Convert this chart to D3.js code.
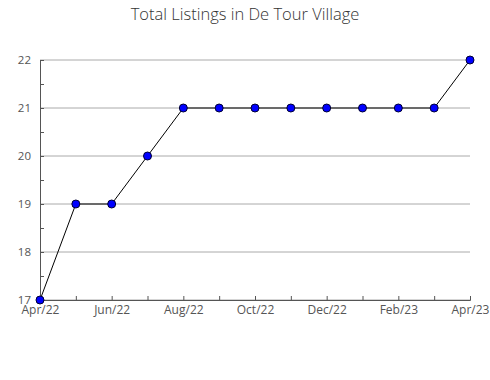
<!DOCTYPE html>
<html>
<head>
<meta charset="utf-8">
<script src="https://cdn.jsdelivr.net/npm/d3@7"></script>
<style>
  body { margin: 0; background: #fff; }
  text { font-family: "Open Sans", sans-serif; }
</style>
</head>
<body>
<div id="chart"></div>
<script>
// chart data
const months = ['Apr/22', 'May/22', 'Jun/22', 'Jul/22', 'Aug/22', 'Sep/22', 'Oct/22',
  'Nov/22', 'Dec/22', 'Jan/23', 'Feb/23', 'Mar/23', 'Apr/23'];
const listings = [17, 19, 19, 20, 21, 21, 21, 21, 21, 21, 21, 21, 22];
const yTicks = [17, 18, 19, 20, 21, 22];
const title = 'Total Listings in De Tour Village';

const width = 490;
const height = 380;
const margin = { top: 60, right: 20, bottom: 80, left: 40 };

const svg = d3.select('#chart')
  .append('svg')
  .attr('width', width)
  .attr('height', height);

const x = d3.scalePoint()
  .domain(months)
  .range([margin.left, width - margin.right]);

const y = d3.scaleLinear()
  .domain([17, 22])
  .range([height - margin.bottom, margin.top]);

// title
svg.append('text')
  .attr('x', width / 2)
  .attr('y', 20)
  .attr('text-anchor', 'middle')
  .attr('font-size', '16.5px')
  .attr('font-weight', 300)
  .attr('fill', '#333')
  .text(title);

// horizontal gridlines
svg.append('g')
  .selectAll('line')
  .data(yTicks)
  .enter()
  .append('line')
  .attr('x1', margin.left)
  .attr('x2', width - margin.right)
  .attr('y1', d => y(d))
  .attr('y2', d => y(d))
  .attr('stroke', '#aaa')
  .attr('stroke-width', 1);

// y axis: minor ticks pointing inward, labels on the left
const yAxis = svg.append('g')
  .attr('transform', `translate(${margin.left},0)`)
  .call(d3.axisLeft(y).tickValues(d3.range(17, 22.01, 0.5)).tickSize(-4).tickFormat(''));
yAxis.select('.domain').attr('stroke', '#555');
yAxis.selectAll('.tick line').attr('stroke', '#555');

svg.append('g')
  .selectAll('text')
  .data(yTicks)
  .enter()
  .append('text')
  .attr('x', margin.left - 9)
  .attr('y', d => y(d) + 4)
  .attr('text-anchor', 'end')
  .attr('font-size', '11.5px')
  .attr('fill', '#555')
  .text(d => d);

// x axis: ticks pointing up, labels every second month
const xAxis = svg.append('g')
  .attr('transform', `translate(0,${height - margin.bottom})`)
  .call(d3.axisBottom(x).tickSize(-4).tickPadding(8)
    .tickFormat((d, i) => i % 2 === 0 ? d : ''));
xAxis.select('.domain').attr('stroke', '#555');
xAxis.selectAll('.tick line').attr('stroke', '#555');
xAxis.selectAll('.tick text')
  .attr('font-size', '12px')
  .attr('fill', '#555')
  .attr('font-family', '"Open Sans", sans-serif')
  .attr('dy', '0.5em');

// line
const line = d3.line()
  .x((d, i) => x(months[i]))
  .y(d => y(d));

svg.append('path')
  .datum(listings)
  .attr('d', line)
  .attr('fill', 'none')
  .attr('stroke', '#000')
  .attr('stroke-width', 1);

// markers
svg.append('g')
  .selectAll('circle')
  .data(listings)
  .enter()
  .append('circle')
  .attr('cx', (d, i) => x(months[i]))
  .attr('cy', d => y(d))
  .attr('r', 4)
  .attr('fill', '#0000ff')
  .attr('stroke', '#000033')
  .attr('stroke-width', 1);
</script>
</body>
</html>
